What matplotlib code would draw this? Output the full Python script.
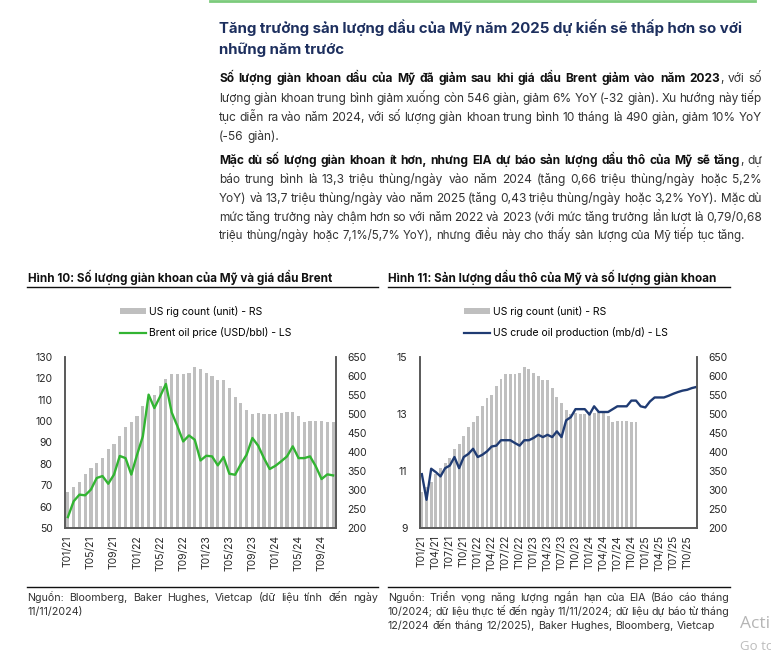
import matplotlib.pyplot as plt
from matplotlib.patches import Patch
from matplotlib.lines import Line2D

W, H = 771, 662
plt.rcParams['font.family'] = ['Inter', 'DejaVu Sans']

# ---- data ----
# US oil rig count, monthly T01/21 .. T11/24 (right axis, both charts)
rig_count = [295, 309, 321, 341, 359, 371, 385, 409, 420, 442, 466, 480,
             494, 521, 541, 551, 573, 592, 604, 604, 604, 608, 625, 619,
             608, 599, 590, 590, 568, 544, 529, 511, 501, 503, 500, 500,
             499, 503, 505, 505, 496, 479, 481, 482, 481, 480, 479]
# Brent oil price USD/bbl, T01/21 .. T11/24
brent = [55.1, 62.5, 65.6, 65.3, 68.0, 73.4, 74.3, 70.7, 75.0, 83.7, 82.7, 75.0,
         84.3, 92.9, 112.4, 106.1, 111.6, 117.4, 104.1, 97.6, 90.5, 93.3, 91.3, 81.6,
         83.8, 83.5, 79.3, 83.2, 75.4, 74.9, 79.9, 84.3, 92.1, 88.5, 82.7, 77.6,
         79.1, 81.2, 83.5, 88.2, 82.7, 82.7, 83.5, 78.8, 72.9, 75.1, 74.6]
# US crude oil production mb/d, T01/21 .. T12/25 (EIA forecast from 12/24)
production = [10.89, 9.99, 11.08, 10.96, 10.81, 11.10, 11.19, 11.49, 11.10, 11.49, 11.60, 11.78,
              11.49, 11.57, 11.69, 11.86, 11.89, 12.08, 12.08, 12.08, 11.98, 11.89, 12.08, 12.08,
              12.16, 12.27, 12.19, 12.27, 12.19, 12.39, 12.19, 12.78, 12.89, 13.17, 13.17, 13.17,
              12.98, 13.27, 13.07, 13.07, 13.07, 13.17, 13.27, 13.27, 13.27, 13.47, 13.47, 13.27,
              13.23, 13.44, 13.58, 13.58, 13.58, 13.64, 13.71, 13.77, 13.82, 13.85, 13.91, 13.95]

ticks10 = ['T01/21', 'T05/21', 'T09/21', 'T01/22', 'T05/22', 'T09/22',
           'T01/23', 'T05/23', 'T09/23', 'T01/24', 'T05/24', 'T09/24']
ticks11 = ['T01/21', 'T04/21', 'T07/21', 'T10/21', 'T01/22', 'T04/22', 'T07/22',
           'T10/22', 'T01/23', 'T04/23', 'T07/23', 'T10/23', 'T01/24', 'T04/24',
           'T07/24', 'T10/24', 'T01/25', 'T04/25', 'T07/25', 'T10/25']

rig_label = 'US rig count (unit) - RS'
brent_label = 'Brent oil price (USD/bbl) - LS'
prod_label = 'US crude oil production (mb/d) - LS'

GRAY = '#BFBFBF'
GREEN = '#32B432'
NAVY = '#1F3B73'

fig = plt.figure(figsize=(W / 100, H / 100), dpi=100)
renderer = fig.canvas.get_renderer()


def put(x, y, s, va='center', **kw):
    # x, y in pixels from top-left
    return fig.text(x / W, 1 - y / H, s, va=va, **kw)


def hline(x0, x1, y, color='#111111', lw=1.0):
    fig.add_artist(Line2D([x0 / W, x1 / W], [1 - y / H, 1 - y / H],
                          transform=fig.transFigure, color=color, lw=lw))


def width(t):
    return t.get_window_extent(renderer).width


def split_words(segs):
    words = []
    for txt, bold in segs:
        for i, p in enumerate(txt.split(' ')):
            if not p:
                continue
            if i == 0 and words:
                words[-1].append((p, bold))
            else:
                words.append([(p, bold)])
    return words


def line_text(x0, x1, y, segs, size, color='#333333', justify=True):
    # segs: list of (text, bold); y is the visual middle, words share one baseline
    words = split_words(segs)
    while True:
        base = y + size * 100 / 72 * 0.36
        placed = []
        total = 0
        for word in words:
            pieces = []
            for p, bold in word:
                t = put(0, base, p, va='baseline', fontsize=size,
                        fontweight='bold' if bold else 'normal',
                        color='#111111' if bold else color)
                w = width(t)
                pieces.append((t, w))
                total += w
            placed.append(pieces)
        a = put(0, base, 'a a', fontsize=size)
        b = put(0, base, 'aa', fontsize=size)
        space = width(a) - width(b)
        a.remove()
        b.remove()
        if justify and len(words) > 1:
            gap = (x1 - x0 - total) / (len(words) - 1)
        else:
            gap = space
        if gap >= 0.55 * space or not justify:
            break
        # too long for the column: shrink this line a little and retry
        for pieces in placed:
            for t, _ in pieces:
                t.remove()
        size -= 0.1
    x = x0
    for pieces in placed:
        for t, w in pieces:
            t.set_x(x / W)
            x += w
        x += gap


# ---- header text ----
hline(210, 755, 1, color='#7CCB7C', lw=2)
put(219, 28, 'Tăng trưởng sản lượng dầu của Mỹ năm 2025 dự kiến sẽ thấp hơn so với',
    fontsize=10.8, fontweight='bold', color='#1D2F5E')
put(219, 50, 'những năm trước', fontsize=10.8, fontweight='bold', color='#1D2F5E')

BX0, BX1, BS = 219, 762, 8.6
para1 = [
    [('Số lượng giàn khoan dầu của Mỹ đã giảm sau khi giá dầu Brent giảm vào năm 2023', True),
     (', với số', False)],
    [('lượng giàn khoan trung bình giảm xuống còn 546 giàn, giảm 6% YoY (-32 giàn). Xu hướng này tiếp', False)],
    [('tục diễn ra vào năm 2024, với số lượng giàn khoan trung bình 10 tháng là 490 giàn, giảm 10% YoY', False)],
    [('(-56 giàn).', False)],
]
para2 = [
    [('Mặc dù số lượng giàn khoan ít hơn, nhưng EIA dự báo sản lượng dầu thô của Mỹ sẽ tăng', True),
     (', dự', False)],
    [('báo trung bình là 13,3 triệu thùng/ngày vào năm 2024 (tăng 0,66 triệu thùng/ngày hoặc 5,2%', False)],
    [('YoY) và 13,7 triệu thùng/ngày vào năm 2025 (tăng 0,43 triệu thùng/ngày hoặc 3,2% YoY). Mặc dù', False)],
    [('mức tăng trưởng này chậm hơn so với năm 2022 và 2023 (với mức tăng trưởng lần lượt là 0,79/0,68', False)],
    [('triệu thùng/ngày hoặc 7,1%/5,7% YoY), nhưng điều này cho thấy sản lượng của Mỹ tiếp tục tăng.', False)],
]
for i, segs in enumerate(para1):
    line_text(BX0, BX1, 78 + 19.3 * i, segs, BS, justify=i < len(para1) - 1)
for i, segs in enumerate(para2):
    last = i == len(para2) - 1
    line_text(BX0, BX1, 160 + 18.8 * i, segs, BS - 0.3 if last else BS, justify=not last)

# ---- chart headings ----
put(28, 277, 'Hình 10: Số lượng giàn khoan của Mỹ và giá dầu Brent',
    fontsize=8.4, fontweight='bold', color='#111111')
put(388, 277, 'Hình 11: Sản lượng dầu thô của Mỹ và số lượng giàn khoan',
    fontsize=8.4, fontweight='bold', color='#111111')
hline(27, 378, 287)
hline(388, 730, 287)


def style(ax, axr):
    for a in (ax, axr):
        a.spines['top'].set_visible(False)
        for s in ('left', 'right', 'bottom'):
            a.spines[s].set_color('#595959')
            a.spines[s].set_linewidth(1.2)
        a.tick_params(length=0, labelsize=7.5, colors='#262626')
    ax.tick_params(axis='y', pad=9)
    axr.tick_params(axis='y', pad=8)
    ax.tick_params(axis='x', pad=5, labelrotation=90)
    ax.set_zorder(axr.get_zorder() + 1)
    ax.patch.set_visible(False)


def legend(ax, x, line_color, line_label):
    handles = [Patch(facecolor=GRAY, edgecolor='none'),
               Line2D([], [], color=line_color, lw=1.6)]
    ax.legend(handles, [rig_label, line_label], loc='center left',
              bbox_to_anchor=(x / W, 1 - 322 / H), bbox_transform=fig.transFigure,
              frameon=False, fontsize=7.5, handlelength=2.5, handleheight=0.5,
              handletextpad=0.25, labelspacing=1.0, borderpad=0, borderaxespad=0)


# ---- Hình 10 ----
ax1 = fig.add_axes([65 / W, 1 - 528 / H, 271 / W, 171 / H])
ax1r = ax1.twinx()
ax1r.bar(range(len(rig_count)), rig_count, width=0.55, color=GRAY)
ax1.plot(range(len(brent)), brent, color=GREEN, lw=1.7)
ax1.set_xlim(-0.5, 46.5)
ax1.set_ylim(50, 130)
ax1.set_yticks(range(50, 131, 10))
ax1r.set_ylim(200, 650)
ax1r.set_yticks(range(200, 651, 50))
ax1.set_xticks(range(0, 4 * len(ticks10), 4))
ax1.set_xticklabels(ticks10)
style(ax1, ax1r)
legend(ax1, 120, GREEN, brent_label)

# ---- Hình 11 ----
ax2 = fig.add_axes([420 / W, 1 - 528 / H, 277 / W, 171 / H])
ax2r = ax2.twinx()
ax2r.bar(range(len(rig_count)), rig_count, width=0.62, color=GRAY)
ax2.plot(range(len(production)), production, color=NAVY, lw=1.7)
ax2.set_xlim(-0.4, 59.1)
ax2.set_ylim(9, 15)
ax2.set_yticks([9, 11, 13, 15])
ax2r.set_ylim(200, 650)
ax2r.set_yticks(range(200, 651, 50))
ax2.set_xticks(range(0, 3 * len(ticks11), 3))
ax2.set_xticklabels(ticks11)
style(ax2, ax2r)
legend(ax2, 464, NAVY, prod_label)

# ---- sources ----
hline(27, 378, 587)
hline(388, 730, 587)
NS = 7.7
line_text(27, 378, 597, [('Nguồn: Bloomberg, Baker Hughes, Vietcap (dữ liệu tính đến ngày', False)], NS)
line_text(27, 378, 611, [('11/11/2024)', False)], NS, justify=False)
line_text(388, 730, 597, [('Nguồn: Triển vọng năng lượng ngắn hạn của EIA (Báo cáo tháng', False)], NS)
line_text(388, 730, 611, [('10/2024; dữ liệu thực tế đến ngày 11/11/2024; dữ liệu dự báo từ tháng', False)], NS)
line_text(388, 730, 625, [('12/2024 đến tháng 12/2025), Baker Hughes, Bloomberg, Vietcap', False)], NS,
          justify=False)

# screen watermark at bottom right, clipped by the edge as in the screenshot
put(740, 624, 'Acti', fontsize=12.5, color='#B5B5B5', family=['Open Sans', 'DejaVu Sans'])
put(740, 647, 'Go to', fontsize=9.5, color='#BDBDBD', family=['Open Sans', 'DejaVu Sans'])

fig.savefig('out.png', dpi=100)
